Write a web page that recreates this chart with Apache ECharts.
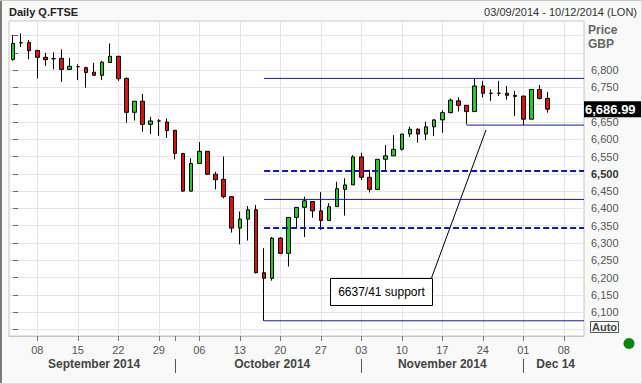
<!DOCTYPE html>
<html><head><meta charset="utf-8">
<script src="https://cdn.jsdelivr.net/npm/echarts@6/dist/echarts.min.js"></script>
<style>html,body{margin:0;padding:0;background:#f9f9f9}#c{width:642px;height:384px}</style>
</head><body><div id="c"></div>
<script>
// ---- data ----
const dates = [
 '2014-09-03','2014-09-04','2014-09-05','2014-09-08','2014-09-09','2014-09-10','2014-09-11','2014-09-12',
 '2014-09-15','2014-09-16','2014-09-17','2014-09-18','2014-09-19','2014-09-22','2014-09-23','2014-09-24',
 '2014-09-25','2014-09-26','2014-09-29','2014-09-30',
 '2014-10-01','2014-10-02','2014-10-03','2014-10-06','2014-10-07','2014-10-08','2014-10-09','2014-10-10',
 '2014-10-13','2014-10-14','2014-10-15','2014-10-16','2014-10-17','2014-10-20','2014-10-21','2014-10-22',
 '2014-10-23','2014-10-24','2014-10-27','2014-10-28','2014-10-29','2014-10-30','2014-10-31',
 '2014-11-03','2014-11-04','2014-11-05','2014-11-06','2014-11-07','2014-11-10','2014-11-11','2014-11-12',
 '2014-11-13','2014-11-14','2014-11-17','2014-11-18','2014-11-19','2014-11-20','2014-11-21','2014-11-24',
 '2014-11-25','2014-11-26','2014-11-27','2014-11-28',
 '2014-12-01','2014-12-02','2014-12-03','2014-12-04','2014-12-05','2014-12-08','2014-12-09','2014-12-10'
];
const open  = [6831,6879,6880,6857,6837,6833,6834,6802,6810,6807,6794,6785,6822,6840,6776,6678,6710,6643,6653,6650,
               6626,6559,6450,6530,6565,6499,6484,6434,6343,6369,6396,6214,6198,6314,6270,6374,6403,6420,6393,6365,
               6405,6455,6468,6549,6490,6455,6542,6552,6571,6615,6629,6615,6636,6656,6677,6711,6698,6680,6754,6733,
               6733,6733,6727,6725,6658,6744,6718];
const high  = [6901,6906,6887,6858,6850,6851,6860,6835,6817,6810,6821,6827,6877,6840,6779,6710,6731,6665,6658,6660,
               6626,6559,6545,6592,6566,6506,6550,6434,6391,6407,6410,6285,6317,6317,6374,6403,6434,6420,6447,6415,
               6477,6487,6554,6561,6512,6542,6583,6612,6615,6636,6632,6651,6658,6684,6718,6721,6698,6776,6769,6744,
               6769,6754,6740,6725,6744,6757,6737];
const low   = [6827,6867,6831,6776,6812,6802,6766,6800,6771,6749,6785,6771,6821,6769,6648,6654,6622,6615,6610,6604,
               6542,6448,6448,6530,6498,6455,6429,6330,6296,6307,6212,6075,6191,6268,6232,6343,6317,6373,6338,6365,
               6405,6379,6468,6482,6446,6455,6511,6552,6567,6607,6590,6598,6609,6619,6675,6680,6643,6680,6721,6711,
               6725,6715,6667,6641,6658,6715,6677];
const close = [6877,6879,6856,6837,6830,6833,6802,6811,6810,6793,6785,6823,6840,6775,6678,6710,6643,6653,6653,6625,
               6559,6450,6530,6565,6499,6483,6434,6343,6369,6396,6214,6198,6314,6270,6374,6403,6422,6393,6365,6405,
               6457,6468,6549,6490,6455,6542,6552,6571,6615,6629,6615,6636,6656,6677,6713,6698,6680,6754,6733,6733,
               6733,6727,6724,6658,6744,6718,6686.99];
const fibLevels = [6075, 6343, 6426, 6508, 6776];
const fibDashed = [false, true, false, true, false];
const supportLevel = 6641;
const supportStartIdx = 56;
const supportText = '6637/41 support';
const monthNames = {8:'September 2014', 9:'October 2014', 10:'November 2014', 11:'Dec 14'};
const yMin = 6031, yMax = 6942, yStep = 50;
const yLabelMin = 6100, yLabelMax = 6800, yBoldLabel = 6500;

// ---- helpers ----
const FONT = '"Liberation Sans", Arial, sans-serif';
const day = i => new Date(dates[i] + 'T00:00:00Z').getUTCDay();
const mon = i => new Date(dates[i] + 'T00:00:00Z').getUTCMonth();
const isMonday = i => day(i) === 1;
const monthStart = new Set(), monthLabel = new Set();
{
  let s = 0;
  for (let i = 1; i <= dates.length; i++) {
    if (i === dates.length || mon(i) !== mon(i - 1)) {
      monthLabel.add(Math.ceil((s + i) / 2));
      if (i < dates.length) monthStart.add(i);
      s = i;
    }
  }
}
const candleData = open.map((o, i) => [o, close[i], low[i], high[i]]);
const fibStartIdx = low.indexOf(Math.min(...low));
const lastClose = close[close.length - 1];
const lastIdx = dates.length - 1;

const levelSeries = fibLevels.map((v, k) => ({
  type: 'line', xAxisIndex: 2, yAxisIndex: 0, silent: true, symbol: 'none', z: 5,
  data: [[fibStartIdx, v], [lastIdx + 0.5, v]],
  lineStyle: fibDashed[k] ? {color: '#1414c0', width: 2, type: [6, 3]} : {color: '#1616b0', width: 1}
}));
levelSeries.push({
  type: 'line', xAxisIndex: 2, yAxisIndex: 0, silent: true, symbol: 'none', z: 5,
  data: [[supportStartIdx, supportLevel], [lastIdx + 0.5, supportLevel]],
  lineStyle: {color: '#1616b0', width: 1}
});

const chart = echarts.init(document.getElementById('c'), null, {renderer: 'svg'});
chart.setOption({
  animation: false,
  backgroundColor: '#f9f9f9',
  textStyle: {fontFamily: FONT},
  grid: {left: 9, right: 58, top: 21, bottom: 48, show: true, backgroundColor: '#fff',
         borderColor: '#c4c4c4', borderWidth: 1, outerBoundsMode: 'none'},
  xAxis: [
    {type: 'category', data: dates, boundaryGap: true,
     axisLine: {show: true, lineStyle: {color: '#c4c4c4'}},
     axisTick: {show: true, alignWithLabel: true, length: 5,
                interval: i => isMonday(i) || monthStart.has(i), lineStyle: {color: '#777'}},
     axisLabel: {interval: i => isMonday(i), formatter: v => v.slice(8, 10),
                 margin: 8, color: '#555', fontSize: 11, fontFamily: FONT},
     splitLine: {show: true, alignWithLabel: true, interval: i => isMonday(i),
                 lineStyle: {color: '#e4e4e4'}}},
    {type: 'category', data: dates, boundaryGap: true, position: 'bottom', offset: 23,
     axisLine: {show: false},
     axisTick: {show: true, alignWithLabel: true, length: 14,
                interval: i => monthStart.has(i), lineStyle: {color: '#555'}},
     axisLabel: {interval: i => monthLabel.has(i),
                 formatter: v => monthNames[new Date(v + 'T00:00:00Z').getUTCMonth()],
                 margin: -1, color: '#444', fontSize: 12, fontWeight: 'bold', fontFamily: FONT},
     splitLine: {show: false}},
    {type: 'value', min: -0.5, max: lastIdx + 0.5, show: false}
  ],
  yAxis: {type: 'value', position: 'right', min: yMin, max: yMax, minInterval: yStep, maxInterval: yStep,
          splitNumber: 18, scale: true,
          axisLine: {show: false},
          axisTick: {show: true, length: 5, lineStyle: {color: '#666'}},
          splitLine: {show: true, lineStyle: {color: '#e4e4e4'}},
          axisLabel: {margin: 7, showMinLabel: false, showMaxLabel: false,
            formatter: v => (v < yLabelMin || v > yLabelMax || Math.abs(v - lastClose) < 20) ? '' :
              (v === yBoldLabel ? '{b|' + v.toLocaleString('en-US') + '}' : '{n|' + v.toLocaleString('en-US') + '}'),
            rich: {n: {color: '#555', fontSize: 11, fontFamily: FONT},
                   b: {color: '#333', fontSize: 11, fontWeight: 'bold', fontFamily: FONT}}}},
  series: [
    {type: 'candlestick', xAxisIndex: 0, yAxisIndex: 0, data: candleData, barWidth: 4, z: 3,
     itemStyle: {color: '#22cc22', color0: '#dd1111', borderColor: '#000', borderColor0: '#000', borderWidth: 1},
     markLine: {silent: true, symbol: 'none', animation: false,
       lineStyle: {color: 'transparent', width: 0},
       label: {show: true, position: 'end', distance: 0,
               formatter: () => lastClose.toLocaleString('en-US', {minimumFractionDigits: 2}),
               backgroundColor: '#000', color: '#fff', fontWeight: 'bold', fontSize: 13,
               fontFamily: FONT, padding: [2, 8, 1, 1]},
       data: [{yAxis: lastClose}]}}
  ].concat(levelSeries),
  graphic: [
    {type: 'rect', z: 100, shape: {x: 0, y: 0, width: 2, height: 384}, style: {fill: '#7c7c7c'}},
    {type: 'rect', z: 100, shape: {x: 0, y: 0, width: 642, height: 1}, style: {fill: '#c8c8c8'}},
    {type: 'rect', z: 100, shape: {x: 641, y: 0, width: 1, height: 384}, style: {fill: '#dcdcdc'}},
    {type: 'rect', z: 100, shape: {x: 0, y: 383, width: 642, height: 1}, style: {fill: '#dcdcdc'}},
    {type: 'text', z: 100, x: 9, y: 6, style: {text: 'Daily Q.FTSE', font: 'bold 11px ' + FONT, fill: '#222'}},
    {type: 'text', z: 100, x: 637, y: 6, style: {text: '03/09/2014 - 10/12/2014 (LON)', font: '11px ' + FONT, fill: '#333', align: 'right'}},
    {type: 'text', z: 100, x: 588, y: 24, style: {text: 'Price', font: 'bold 12px ' + FONT, fill: '#666'}},
    {type: 'text', z: 100, x: 588, y: 38, style: {text: 'GBP', font: 'bold 12px ' + FONT, fill: '#666'}},
    {type: 'rect', z: 100, shape: {x: 590.5, y: 321.5, width: 28, height: 11}, style: {fill: '#fff', stroke: '#555', lineWidth: 1}},
    {type: 'text', z: 101, x: 604.5, y: 327, style: {text: 'Auto', font: 'bold 11px ' + FONT, fill: '#444', align: 'center', verticalAlign: 'middle'}},
    {type: 'circle', z: 100, shape: {cx: 629, cy: 343.5, r: 5.5}, style: {fill: '#0a870a'}},
    {type: 'line', z: 100, shape: {x1: 431.5, y1: 278, x2: 486, y2: 130}, style: {stroke: '#000', lineWidth: 1}},
    {type: 'rect', z: 101, shape: {x: 330.5, y: 278.5, width: 102, height: 27}, style: {fill: '#fff', stroke: '#000', lineWidth: 1}},
    {type: 'text', z: 102, x: 381.5, y: 292, style: {text: supportText, font: '12px ' + FONT, fill: '#000', align: 'center', verticalAlign: 'middle'}}
  ]
});
</script></body></html>
